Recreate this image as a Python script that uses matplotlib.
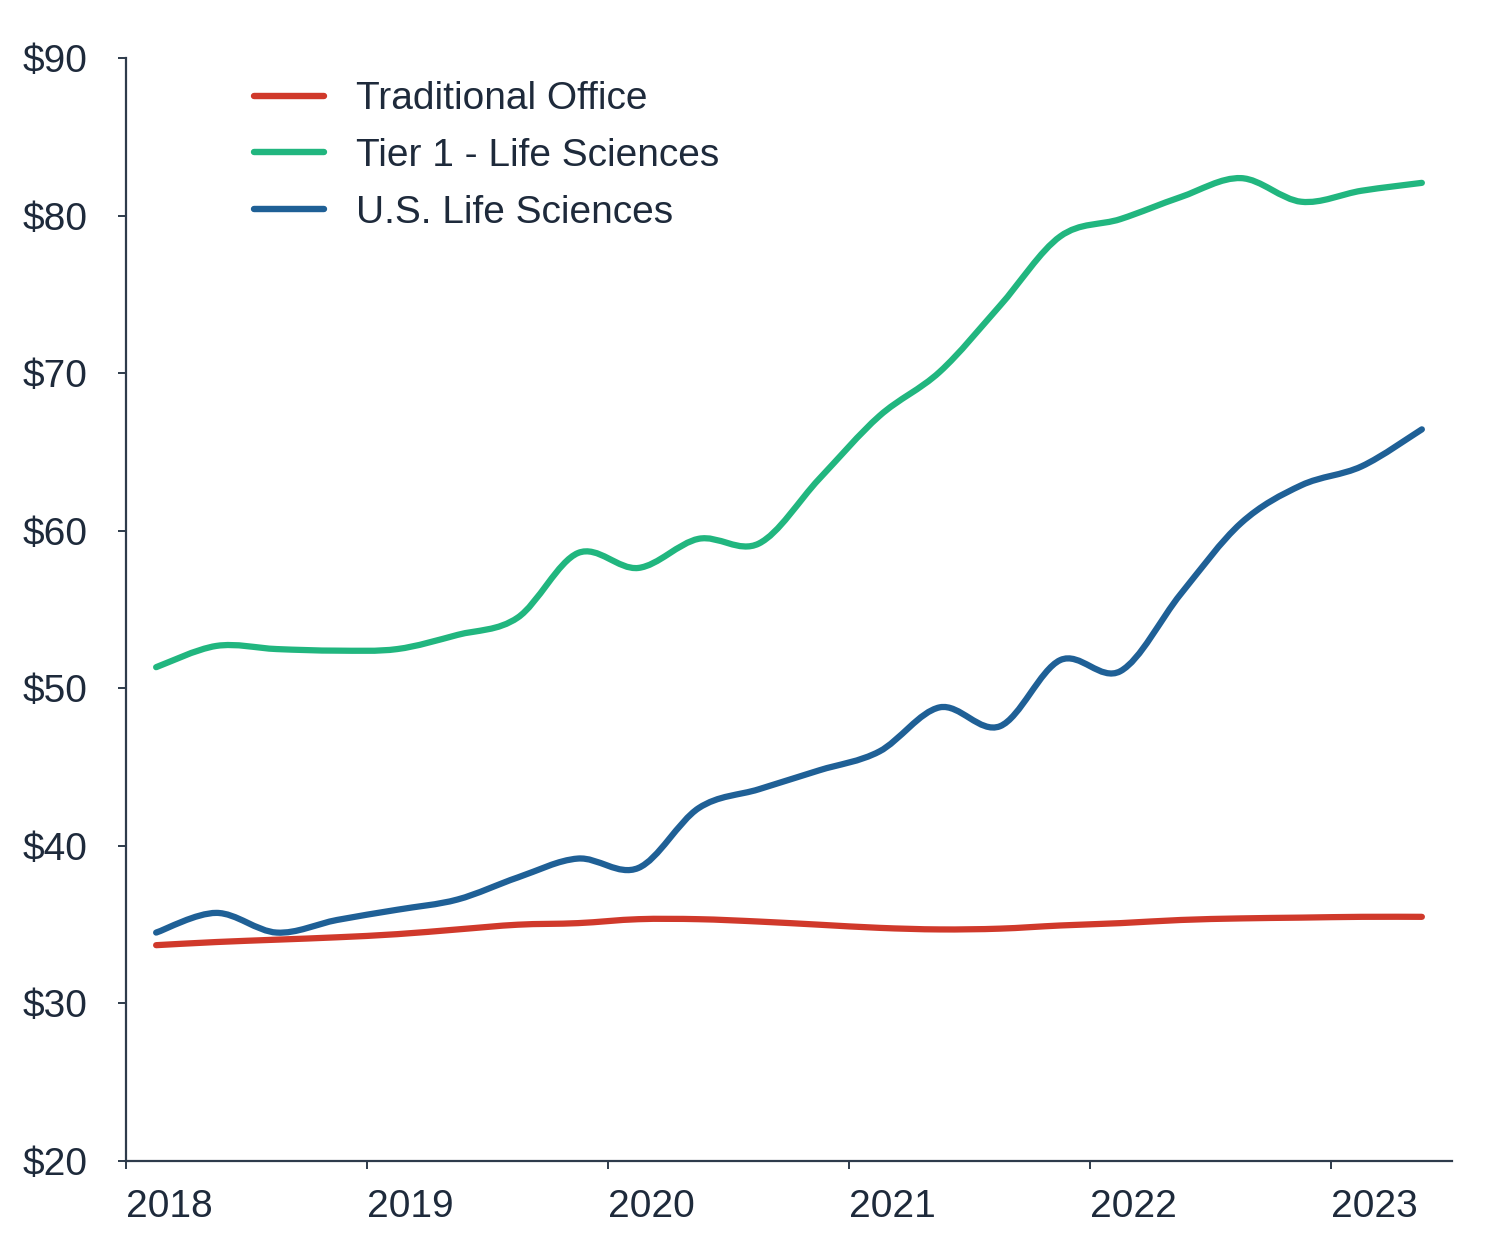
import numpy as np
import matplotlib
matplotlib.use("Agg")
import matplotlib.pyplot as plt
from matplotlib.path import Path
from matplotlib.patches import PathPatch
from matplotlib.lines import Line2D

# quarterly asking rents, 2018 Q2 .. 2023 Q3
quarters = 2018.125 + 0.25 * np.arange(22)
traditional = [33.7, 33.9, 34.05, 34.2, 34.4, 34.7, 35.0, 35.1, 35.35, 35.35, 35.2,
               35.0, 34.8, 34.7, 34.75, 34.95, 35.1, 35.3, 35.4, 35.45, 35.5, 35.5]
tier1 = [51.35, 52.7, 52.5, 52.4, 52.5, 53.4, 54.5, 58.6, 57.65, 59.5, 59.2,
         63.3, 67.3, 70.1, 74.3, 78.7, 79.8, 81.2, 82.4, 80.9, 81.6, 82.1]
us_ls = [34.5, 35.75, 34.5, 35.3, 35.95, 36.6, 38.0, 39.2, 38.6, 42.4, 43.6,
         44.8, 46.0, 48.8, 47.6, 51.8, 51.1, 56.0, 60.5, 62.9, 64.1, 66.45]

labels = ["Traditional Office", "Tier 1 - Life Sciences", "U.S. Life Sciences"]
colors = ["#d0392b", "#21b67f", "#1f6096"]
years = [2018, 2019, 2020, 2021, 2022, 2023]
yticks = [20, 30, 40, 50, 60, 70, 80, 90]

TXT = "#1e2a3b"
plt.rcParams['font.family'] = ['Liberation Sans', 'DejaVu Sans']


def smooth_path(x, y):
    # catmull-rom style bezier through the points (like excel smoothed line)
    p = np.column_stack([x, y])
    verts = [p[0]]
    codes = [Path.MOVETO]
    n = len(p)
    for i in range(n - 1):
        p0 = p[i - 1] if i > 0 else p[i]
        p3 = p[i + 2] if i + 2 < n else p[i + 1]
        c1 = p[i] + (p[i + 1] - p0) / 6.0
        c2 = p[i + 1] - (p3 - p[i]) / 6.0
        verts += [c1, c2, p[i + 1]]
        codes += [Path.CURVE4] * 3
    return Path(verts, codes)


fig = plt.figure(figsize=(15, 12.43), dpi=100)
ax = fig.add_axes([0.084, 0.066, 0.884, 0.887])

handles = []
for ys, c, lab in zip([traditional, tier1, us_ls], colors, labels):
    patch = PathPatch(smooth_path(quarters, ys), facecolor="none", edgecolor=c,
                      lw=4.5, capstyle="round", joinstyle="round")
    ax.add_patch(patch)
    handles.append(Line2D([], [], color=c, lw=4.6, solid_capstyle="round"))

ax.set_xlim(2018, 2023.5)
ax.set_ylim(20, 90)
ax.set_yticks(yticks)
ax.set_yticklabels(["$%d" % v for v in yticks])
ax.set_xticks(years)
ax.set_xticklabels([str(y) for y in years], ha="left")

for s in ["top", "right"]:
    ax.spines[s].set_visible(False)
for s in ["left", "bottom"]:
    ax.spines[s].set_color("#2e3b4b")
    ax.spines[s].set_linewidth(1.6)

ax.tick_params(axis="both", colors="#2e3b4b", labelcolor=TXT, labelsize=28,
               length=6, width=1.4, direction="out")
ax.tick_params(axis="y", pad=22)
ax.tick_params(axis="x", pad=14)

leg = ax.legend(handles, labels, loc="upper left", bbox_to_anchor=(0.0704, 1.011),
                frameon=False, fontsize=28, handlelength=1.8, handletextpad=0.82,
                labelspacing=0.53)
for t in leg.get_texts():
    t.set_color(TXT)

fig.savefig("out.png", dpi=100, facecolor="white")
